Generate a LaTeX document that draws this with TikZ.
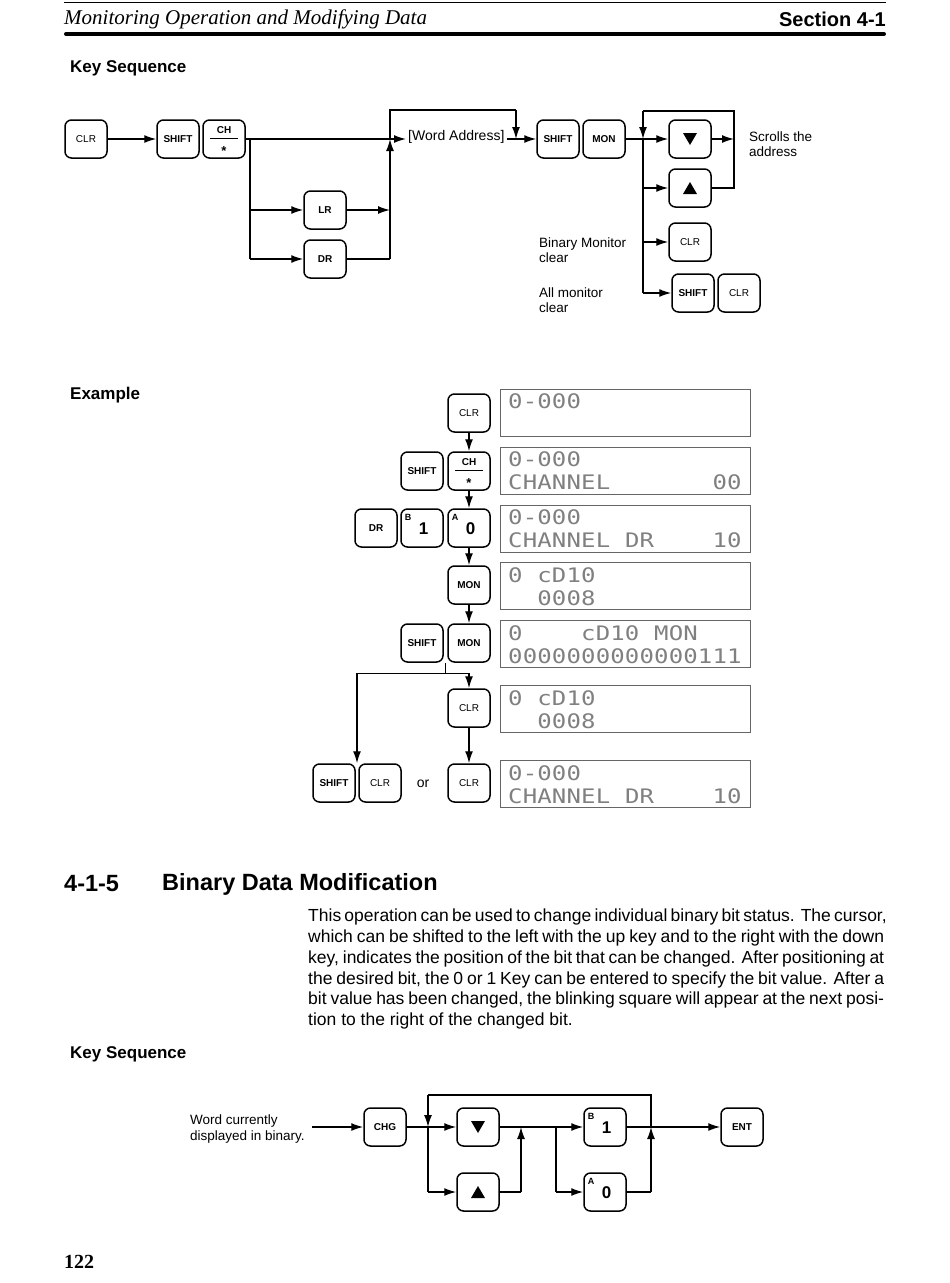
\documentclass[tikz,border=0pt]{standalone}
\usepackage{fontspec}
\setmainfont{Liberation Sans}
\newfontfamily\headserif{Liberation Serif}
\newfontfamily\lcdfont[FakeStretch=1.2]{DejaVu Sans Mono}
\usetikzlibrary{arrows.meta,calc}
\ExplSyntaxOn
\NewDocumentCommand\lcdchars{m}{\tl_map_inline:nn{#1}{\makebox[14.6pt][l]{##1}}}
\ExplSyntaxOff
\tikzset{
 key/.style={draw, line width=1.5pt, rounded corners=6.5pt, minimum width=42pt, minimum height=38pt, inner sep=0pt, font=\fontsize{10}{12}\selectfont\bfseries},
 keyr/.style={key, font=\fontsize{10}{12}\selectfont},
 conn/.style={line width=1.4pt},
 arr/.style={conn, -{Latex[length=12pt,width=8pt]}},
 lcdbox/.style={draw=black!60, line width=1pt, minimum width=250pt, minimum height=47pt, anchor=north west, inner sep=0pt},
 lcdtext/.style={anchor=west, inner sep=0pt, text=black!50, font=\lcdfont\fontsize{20}{20}\selectfont},
 lbl/.style={anchor=west, inner sep=0pt, align=left, font=\fontsize{13.5}{15.5}\selectfont},
 head/.style={anchor=west, inner sep=0pt, font=\fontsize{17}{20}\selectfont\bfseries},
 body/.style={anchor=west, inner sep=0pt, font=\fontsize{17.5}{21}\selectfont},
}
\newcommand\chkey[2]{%
 \node[key] (#1) at (#2) {};
 \node[inner sep=0pt, font=\fontsize{10}{10}\selectfont\bfseries] (#1t) at ([yshift=9pt]#1.center) {CH};
 \draw[line width=1pt] ([xshift=-14pt,yshift=1pt]#1.center) -- ([xshift=14pt,yshift=1pt]#1.center);
 \node[inner sep=0pt, font=\fontsize{13}{13}\selectfont\bfseries] (#1b) at ([yshift=-12pt]#1.center) {*};
}
\newcommand\numkey[4]{%
 \node[key] (#1) at (#2) {};
 \node[inner sep=0pt, font=\fontsize{9}{9}\selectfont\bfseries] (#1s) at ([xshift=-14pt,yshift=11pt]#1.center) {#3};
 \node[inner sep=0pt, font=\fontsize{17}{17}\selectfont\bfseries] (#1d) at ([xshift=1.5pt,yshift=-1pt]#1.center) {#4};
}
\newcommand\dnkey[2]{%
 \node[key] (#1) at (#2) {};
 \fill ([xshift=-7pt,yshift=6pt]#1.center) -- ([xshift=7pt,yshift=6pt]#1.center) -- ([yshift=-6pt]#1.center) -- cycle;
}
\newcommand\upkey[2]{%
 \node[key] (#1) at (#2) {};
 \fill ([xshift=-7pt,yshift=-6pt]#1.center) -- ([xshift=7pt,yshift=-6pt]#1.center) -- ([yshift=6pt]#1.center) -- cycle;
}
\newcommand\lcd[4]{\node[lcdtext] (#1) at ({508+#2*14.6},#3) {\lcdchars{#4}};}
\begin{document}
\begin{tikzpicture}[x=1pt,y=-1pt]
\useasboundingbox (0,0) rectangle (950,1283);
% header
\draw[line width=0.8pt] (64,2) -- (886,2);
\draw[line width=4pt, line cap=round] (66,34) -- (884,34);
\node[anchor=west, inner sep=0pt, font=\headserif\itshape\fontsize{21}{24}\selectfont] (htitle) at (64,19) {Monitoring Operation and Modifying Data};
\node[anchor=east, inner sep=0pt, font=\fontsize{20}{24}\selectfont\bfseries] (hsec) at (886,19) {Section 4-1};

% ---------- Key sequence 1
\node[head] (ks1) at (70,68) {Key Sequence};
\node[keyr] (clr1) at (86,139) {CLR};
\node[key] (shift1) at (178,139) {SHIFT};
\chkey{ch1}{224,139}
\node[key] (lr) at (325,210) {LR};
\node[key] (dr) at (325,259) {DR};
\node[anchor=west, inner sep=2pt, font=\fontsize{14}{16}\selectfont] (wa) at (406,137) {[Word Address]};
\node[key] (shift2) at (558,139) {SHIFT};
\node[key] (mon1) at (604,139) {MON};
\dnkey{dn1}{690,139}
\upkey{up1}{690,188}
\node[keyr] (clr2) at (690,242) {CLR};
\node[key] (shift3) at (693,293) {SHIFT};
\node[keyr] (clr3) at (739,293) {CLR};
\node[lbl] (scr) at (749,144) {Scrolls the\\address};
\node[lbl] (bmc) at (539,250) {Binary Monitor\\clear};
\node[lbl] (amc) at (539,300) {All monitor\\clear};

\draw[arr] (clr1) -- (shift1);
\coordinate (b1) at (250,139);
\coordinate (b2) at (250,259);
\coordinate (m0) at (390,110);
\coordinate (m1) at (390,139);
\coordinate (m2) at (390,259);
\coordinate (n0) at (516,110);
\coordinate (n1) at (516,139);
\draw[arr] (ch1.east) -- (ch1.east -| wa.west);
\draw[conn] (b1) -- (b2);
\draw[arr] (b1 |- lr) -- (lr.west);
\draw[arr] (b2) -- (dr.west);
\draw[arr] (lr.east) -- (m1 |- lr);
\draw[conn] (dr.east) -- (m2);
\draw[arr] (m2) -- (m1);
\draw[conn] (m1) -- (m0) -- (n0);
\draw[arr] (n0) -- (n1);
\draw[arr] (n1 -| wa.east) -- (shift2.west);

\coordinate (p0) at (643,111);
\coordinate (p1) at (643,139);
\coordinate (p4) at (643,293);
\coordinate (q0) at (734,111);
\draw[conn] (mon1.east) -- (p1);
\draw[arr] (p1) -- (dn1.west);
\draw[arr] (p0) -- (p1);
\draw[conn] (p1) -- (p4);
\draw[arr] (p1 |- up1) -- (up1.west);
\draw[arr] (p1 |- clr2) -- (clr2.west);
\draw[arr] (p4) -- (shift3.west);
\draw[arr] (dn1.east) -- (q0 |- dn1);
\draw[conn] (up1.east) -- (q0 |- up1) -- (q0) -- (p0);

% ---------- Example
\node[head] (ex) at (70,395) {Example};
\node[lcdbox] (d1) at (500,389) {};
\node[lcdbox] (d2) at (500,447) {};
\node[lcdbox] (d3) at (500,505) {};
\node[lcdbox] (d4) at (500,562) {};
\node[lcdbox] (d5) at (500,620) {};
\node[lcdbox] (d6) at (500,685) {};
\node[lcdbox] (d7) at (500,760) {};
\lcd{t1a}{0}{401}{0-000}
\lcd{t2a}{0}{459}{0-000}
\lcd{t2b}{0}{482}{CHANNEL}
\lcd{t2c}{14}{482}{00}
\lcd{t3a}{0}{517}{0-000}
\lcd{t3b}{0}{540}{CHANNEL}
\lcd{t3c}{8}{540}{DR}
\lcd{t3d}{14}{540}{10}
\lcd{t4a}{0}{575}{0}
\lcd{t4b}{2}{575}{cD10}
\lcd{t4c}{2}{598}{0008}
\lcd{t5a}{0}{633}{0}
\lcd{t5b}{5}{633}{cD10}
\lcd{t5c}{10}{633}{MON}
\lcd{t5d}{0}{656}{0000000000000111}
\lcd{t6a}{0}{698}{0}
\lcd{t6b}{2}{698}{cD10}
\lcd{t6c}{2}{721}{0008}
\lcd{t7a}{0}{773}{0-000}
\lcd{t7b}{0}{796}{CHANNEL}
\lcd{t7c}{8}{796}{DR}
\lcd{t7d}{14}{796}{10}

\node[keyr] (eclr1) at (469,413) {CLR};
\node[key] (eshift1) at (422,471) {SHIFT};
\chkey{ech}{469,471}
\node[key] (edr) at (376,528) {DR};
\numkey{eb1}{422,528}{B}{1}
\numkey{ea0}{469,528}{A}{0}
\node[key] (emon1) at (469,585) {MON};
\node[key] (eshift2) at (422,643) {SHIFT};
\node[key] (emon2) at (469,643) {MON};
\node[keyr] (eclr2) at (469,708) {CLR};
\node[key] (eshift3) at (334,783) {SHIFT};
\node[keyr] (eclr4) at (380,783) {CLR};
\node[inner sep=0pt, font=\fontsize{14}{16}\selectfont] (eor) at (423,784) {or};
\node[keyr] (eclr3) at (469,783) {CLR};

\draw[arr] (eclr1.south) -- (ech.north);
\draw[arr] (ech.south) -- (ea0.north);
\draw[arr] (ea0.south) -- (emon1.north);
\draw[arr] (emon1.south) -- (emon2.north);
\coordinate (tk1) at ($(eshift2.south east)!0.5!(emon2.south west)$);
\coordinate (tk2) at ($(tk1)+(0,11)$);
\coordinate (pairtop) at ($(eshift3.north east)!0.5!(eclr4.north west)$);
\draw[line width=1pt] (tk1) -- (tk2);
\draw[arr] (tk2) -| (eclr2.north);
\draw[arr] (tk2) -| (pairtop);
\draw[arr] (eclr2.south) -- (eclr3.north);

% ---------- 4-1-5
\node[anchor=west, inner sep=0pt, font=\fontsize{23.5}{26}\selectfont\bfseries] (secn) at (64,884) {4-1-5};
\node[anchor=west, inner sep=0pt, font=\fontsize{23.5}{26}\selectfont\bfseries] (sect) at (162,884) {Binary Data Modification};
\node[body] (p1l) at (308,917) {\makebox[576pt][s]{This operation can be used to change individual binary bit status. The cursor,}};
\node[body] (p2l) at (308,938) {\makebox[576pt][s]{which can be shifted to the left with the up key and to the right with the down}};
\node[body] (p3l) at (308,959) {\makebox[576pt][s]{key, indicates the position of the bit that can be changed. After positioning at}};
\node[body] (p4l) at (308,980) {\makebox[576pt][s]{the desired bit, the 0 or 1 Key can be entered to specify the bit value. After a}};
\node[body] (p5l) at (308,1000) {\makebox[576pt][s]{bit value has been changed, the blinking square will appear at the next posi-}};
\node[body] (p6l) at (308,1021) {tion to the right of the changed bit.};

% ---------- Key sequence 2
\node[head] (ks2) at (70,1054) {Key Sequence};
\node[lbl] (wcd) at (190,1129) {Word currently\\displayed in binary.};
\node[key] (chg) at (385,1127) {CHG};
\dnkey{dn2}{478,1127}
\upkey{up2}{478,1192}
\numkey{one}{605,1127}{B}{1}
\numkey{zero}{605,1192}{A}{0}
\node[key] (ent) at (742,1127) {ENT};
\coordinate (w0) at (312,1127);
\coordinate (r0) at (428,1095);
\coordinate (r1) at (428,1127);
\coordinate (r2) at (428,1192);
\coordinate (s1) at (521,1127);
\coordinate (s2) at (521,1192);
\coordinate (u1) at (556,1127);
\coordinate (u2) at (556,1192);
\coordinate (v0) at (651,1095);
\coordinate (v1) at (651,1127);
\coordinate (v2) at (651,1192);
\draw[arr] (w0) -- (chg.west);
\draw[conn] (chg.east) -- (r1);
\draw[arr] (r1) -- (dn2.west);
\draw[arr] (r0) -- (r1);
\draw[conn] (r1) -- (r2);
\draw[arr] (r2) -- (up2.west);
\draw[conn] (dn2.east) -- (u1);
\draw[conn] (up2.east) -- (s2);
\draw[arr] (s2) -- (s1);
\draw[arr] (u1) -- (one.west);
\draw[conn] (u1) -- (u2);
\draw[arr] (u2) -- (zero.west);
\draw[conn] (zero.east) -- (v2);
\draw[arr] (v2) -- (v1);
\draw[conn] (v1) -- (v0) -- (r0);
\draw[arr] (one.east) -- (ent.west);

\node[anchor=west, inner sep=0pt, font=\headserif\bfseries\fontsize{20}{22}\selectfont] (pg) at (64,1262) {122};
\end{tikzpicture}
\end{document}
